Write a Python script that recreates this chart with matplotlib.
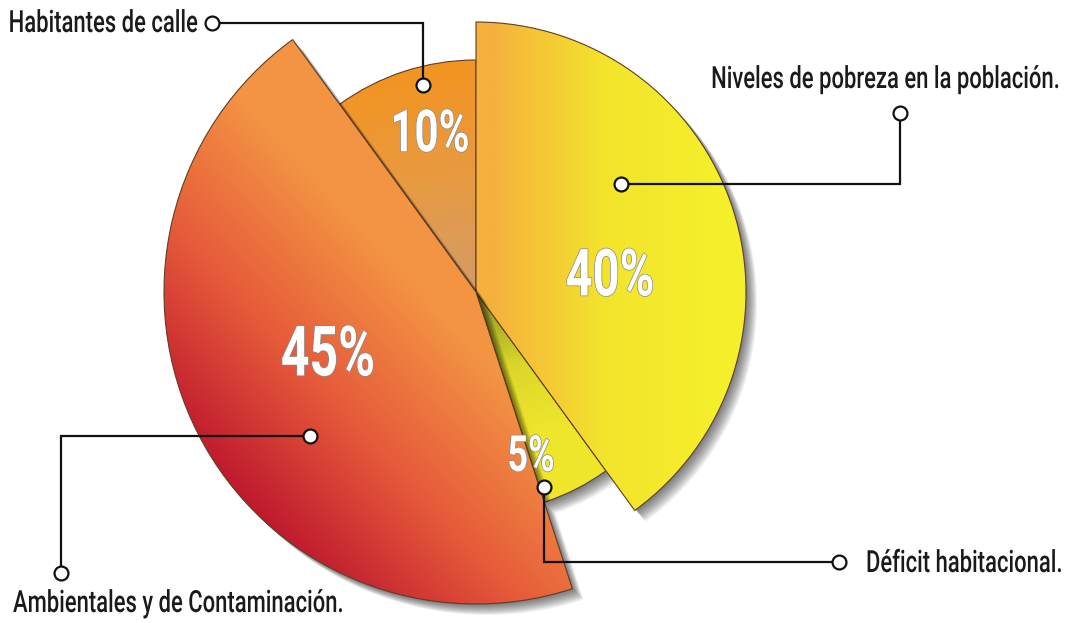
import numpy as np
import matplotlib
matplotlib.use("Agg")
import matplotlib.pyplot as plt
from matplotlib.patches import Wedge
from matplotlib.colors import to_rgb
from matplotlib.transforms import Affine2D
import matplotlib.patheffects as pe

# ---- data ----
labels = ["Niveles de pobreza en la población.", "Déficit habitacional.",
          "Ambientales y de Contaminación.", "Habitantes de calle"]
values = [40, 5, 45, 10]
pct_labels = ["40%", "5%", "45%", "10%"]

# ---- look (pixel coords, y down) ----
W, H = 1067, 623
center = (476, 292)
radii = [270, 221, 312, 232]
draw_order = [3, 1, 0, 2]          # 10% at the back, 45% on top
gradients = [
    (["#f5b03d", "#f3e42c", "#f5ef2b"], (490, 0), (720, 0)),
    (["#8f9a22", "#dcd62a", "#efe62c"], (478, 300), (515, 440)),
    (["#bd162e", "#e65a3a", "#f39443"], (215, 480), (420, 290)),
    (["#f39420", "#e89a40", "#d49c66"], (430, 65), (462, 285)),
]
pct_pos = [(610, 276), (531, 456), (328, 355), (430, 134)]
pct_size = [47, 36, 50, 42]
label_pos = [(1060, 88, "right"), (866, 572, "left"), (13, 612, "left"), (198, 32, "right")]
leaders = [  # polyline from slice dot to label dot
    [(621, 184), (900, 184), (900, 113)],
    [(544, 487), (544, 562), (839, 562)],
    [(310, 436), (61, 436), (61, 573)],
    [(423, 85), (423, 23), (212, 23)],
]
NARROW = 0.72   # the original uses a condensed face


class Tall(pe.AbstractPathEffect):
    """stretch glyphs vertically so a small font looks condensed"""

    def __init__(self, sy, va="baseline", stroke=None):
        super().__init__()
        self.sy, self.va, self.stroke = sy, va, stroke

    def draw_path(self, renderer, gc, tpath, affine, rgbFace=None):
        if self.va == "baseline":
            py = affine.transform([(0, 0)])[0, 1]
        else:
            bb = tpath.get_extents(affine)
            py = (bb.y0 + bb.y1) / 2
        aff = affine + Affine2D().translate(0, -py).scale(1, self.sy).translate(0, py)
        if self.stroke:
            gc0 = renderer.new_gc()
            gc0.copy_properties(gc)
            gc0.set_foreground(self.stroke[1])
            gc0.set_linewidth(self.stroke[0])
            renderer.draw_path(gc0, tpath, aff, None)
            gc0.restore()
        renderer.draw_path(gc, tpath, aff, rgbFace)


def gradient_fill(ax, wedge, stops, p0, p1, z):
    x0, y0 = wedge.center
    r = wedge.r
    xs = np.linspace(x0 - r, x0 + r, 300)
    ys = np.linspace(y0 - r, y0 + r, 300)
    X, Y = np.meshgrid(xs, ys)
    d = np.subtract(p1, p0)
    t = np.clip(((X - p0[0]) * d[0] + (Y - p0[1]) * d[1]) / (d @ d), 0, 1)
    cols = np.array([to_rgb(c) for c in stops])
    pos = np.linspace(0, 1, len(stops))
    img = np.dstack([np.interp(t, pos, cols[:, k]) for k in range(3)])
    im = ax.imshow(img, extent=(xs[0], xs[-1], ys[0], ys[-1]), origin="lower",
                   zorder=z, interpolation="bilinear", aspect="auto")
    im.set_clip_path(wedge)


fig = plt.figure(figsize=(W / 100, H / 100), dpi=100)
ax = fig.add_axes([0, 0, 1, 1])
ax.set_xlim(0, W)
ax.set_ylim(H, 0)
ax.axis("off")

# screen angles, clockwise from 12 o'clock
spans = []
start = 90.0
for v in values:
    end = start - v * 3.6
    spans.append((end, start))
    start = end

for layer, i in enumerate(draw_order):
    a, b = spans[i]
    z = 2 + layer * 2
    # soft drop shadow
    for k in range(1, 12):
        ax.add_patch(Wedge((center[0] + k, center[1] + k), radii[i], -b, -a,
                           facecolor="black", edgecolor="none", alpha=0.06, zorder=z))
    w = Wedge(center, radii[i], -b, -a, facecolor="none",
              edgecolor="#5e3e24", linewidth=0.8, zorder=z + 1)
    ax.add_patch(w)
    stops, p0, p1 = gradients[i]
    gradient_fill(ax, w, stops, p0, p1, z + 0.5)

for i in range(len(values)):
    x, y = pct_pos[i]
    ax.text(x, y, pct_labels[i], ha="center", va="center", color="white",
            fontsize=pct_size[i] * NARROW, fontweight="bold", family="Roboto",
            zorder=20, path_effects=[Tall(1 / NARROW, "center", stroke=(1.0, "#8a8a8a"))])

    x, y, ha = label_pos[i]
    ax.text(x, y, labels[i], ha=ha, va="baseline", color="#1a1a1a",
            fontsize=22 * NARROW, fontweight="medium", family="Roboto",
            zorder=20, path_effects=[Tall(1 / NARROW, "baseline")])

    pts = np.array(leaders[i])
    ax.plot(pts[:, 0], pts[:, 1], color="#111111", lw=1.6, zorder=21,
            solid_joinstyle="miter")
    ax.plot(pts[[0, -1], 0], pts[[0, -1], 1], "o", ms=10, mfc="white",
            mec="#111111", mew=1.6, zorder=22)

fig.savefig("out.png", dpi=100, facecolor="white")
